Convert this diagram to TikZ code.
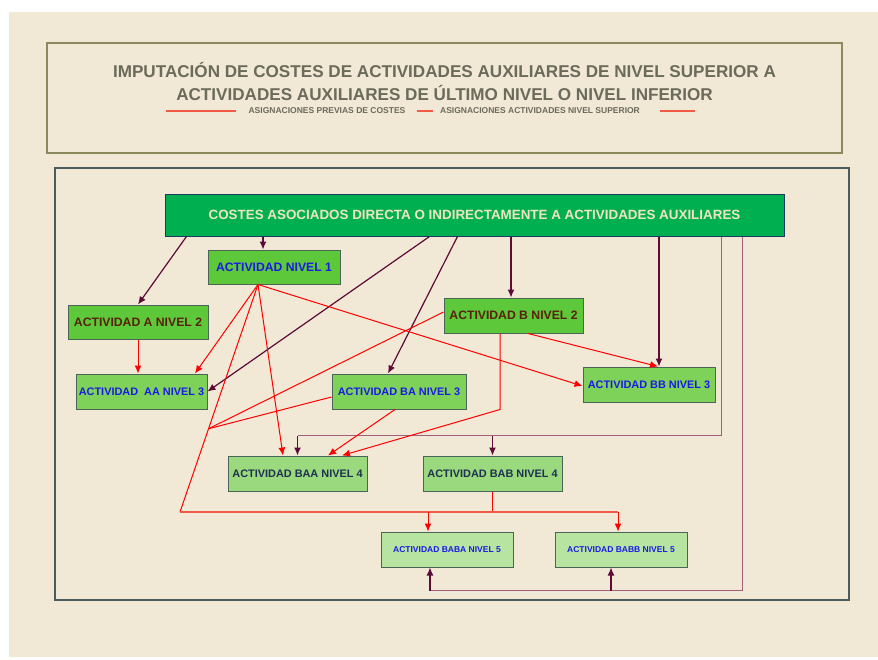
\documentclass[tikz,border=0pt]{standalone}
\usepackage{fontspec}
\setmainfont{Liberation Sans}
\usepackage{tikz}
\usetikzlibrary{arrows.meta,calc}
\definecolor{fondo}{HTML}{F1E8D6}
\definecolor{marcotit}{HTML}{8A8A5E}
\definecolor{marcogen}{HTML}{4B5A5A}
\definecolor{gristit}{HTML}{6B6B5B}
\definecolor{verdecoste}{HTML}{00B050}
\definecolor{bordecoste}{HTML}{1F3A5F}
\definecolor{crema}{HTML}{F1E5C0}
\definecolor{verdeA}{HTML}{5CC83A}
\definecolor{verdeB}{HTML}{7ED25A}
\definecolor{verdeC}{HTML}{9BD97E}
\definecolor{verdeD}{HTML}{B8E4A2}
\definecolor{bordeact}{HTML}{4A6458}
\definecolor{azulact}{HTML}{1A1AE6}
\definecolor{marron}{HTML}{5A200A}
\definecolor{marino}{HTML}{1F3050}
\definecolor{granate}{HTML}{5C0A38}
\definecolor{malva}{HTML}{A0607A}
\definecolor{rojoleg}{HTML}{F05A46}
\newcommand{\tam}[1]{\bfseries\fontsize{#1}{#1}\selectfont}

\begin{document}
\begin{tikzpicture}[x=1pt,y=-1pt,
	caja/.style={draw=bordeact,line width=1pt,inner sep=0pt,minimum height=35pt},
	nivA/.style={caja,fill=verdeA,minimum width=#1,font=\tam{12.2}},
	nivB/.style={caja,fill=verdeB,minimum width=#1,font=\tam{10.9},text=azulact},
	nivC/.style={caja,fill=verdeC,minimum width=139pt,font=\tam{10.9},text=marino},
	nivD/.style={caja,fill=verdeD,minimum width=132pt,font=\tam{8.5},text=azulact},
	imputa/.style={draw=granate,line width=1.2pt,-{Latex[length=8pt,width=7pt]}},
	reparto/.style={draw=red,line width=1pt,-{Latex[length=8pt,width=7pt]}},
	bus/.style={draw=malva,line width=1.8pt},
	busrojo/.style={draw=rojoleg,line width=1.6pt}]
	\useasboundingbox (0,0) rectangle (878,659);
	\fill[white] (0,0) rectangle (878,659);
	\fill[fondo] (9,12) rectangle (878,657);
	
	\draw[marcotit,line width=1.5pt] (47,43) rectangle (842,153);
	\node[text=gristit,font=\tam{17.1}] (tit1) at (444.5,70) {IMPUTACIÓN DE COSTES DE ACTIVIDADES AUXILIARES DE NIVEL SUPERIOR A};
	\node[text=gristit,font=\tam{17.1}] (tit2) at (444.5,93) {ACTIVIDADES AUXILIARES DE ÚLTIMO NIVEL O NIVEL INFERIOR};
	\node[text=gristit,font=\tam{8.5}] (leg1) at (327,111) {ASIGNACIONES PREVIAS DE COSTES};
	\node[text=gristit,font=\tam{8.5}] (leg2) at (540,111) {ASIGNACIONES ACTIVIDADES NIVEL SUPERIOR};
	\draw[rojoleg,line width=1.2pt] ([xshift=-9pt]leg1.west) -- ++(-70,0);
	\draw[rojoleg,line width=1.2pt] ([xshift=8pt]leg1.east) -- ([xshift=-4pt]leg2.west);
	\draw[rojoleg,line width=1.2pt] ([xshift=17pt]leg2.east) -- ++(35,0);
	
	\draw[marcogen,line width=2pt] (55,168) rectangle (849,600);
	
	\node[draw=bordecoste,line width=1pt,fill=verdecoste,minimum width=619pt,minimum height=42pt,
		text=crema,font=\tam{13.4}] (costes) at (474.5,215) {COSTES ASOCIADOS DIRECTA O INDIRECTAMENTE A ACTIVIDADES AUXILIARES};
	\node[nivA=132pt,text=azulact,minimum height=34pt] (n1) at (274,267) {ACTIVIDAD NIVEL 1};
	\node[nivA=140pt,text=marron,minimum height=34pt] (a2) at (138,322) {ACTIVIDAD A NIVEL 2};
	\node[nivA=139pt,text=marron] (b2) at (513.5,315.5) {ACTIVIDAD B NIVEL 2};
	\node[nivB=131pt] (aa3) at (141.5,391.5) {ACTIVIDAD\ \ AA NIVEL 3};
	\node[nivB=134pt] (ba3) at (399,391.5) {ACTIVIDAD BA NIVEL 3};
	\node[nivB=132pt] (bb3) at (649,384.5) {ACTIVIDAD BB NIVEL 3};
	\node[nivC] (baa4) at (297.5,473.5) {ACTIVIDAD BAA NIVEL 4};
	\node[nivC] (bab4) at (492.5,473.5) {ACTIVIDAD BAB NIVEL 4};
	\node[nivD] (baba5) at (447,549.5) {ACTIVIDAD BABA NIVEL 5};
	\node[nivD] (babb5) at (621,549.5) {ACTIVIDAD BABB NIVEL 5};
	
	\coordinate (n1in) at ([xshift=-11pt]n1.north);
	\coordinate (b2in) at ([xshift=-2.5pt]b2.north);
	\coordinate (bb3in) at ([xshift=10pt]bb3.north);
	\coordinate (r1) at ([xshift=557pt]costes.south west);
	\coordinate (r2) at ([xshift=578pt]costes.south west);
	\coordinate (j1) at ([yshift=20pt]baa4.north);
	\coordinate (j2) at ([xshift=-17pt,yshift=-23pt]baba5.south);
	\coordinate (babbin) at ([xshift=-10pt]babb5.south);
	\draw[imputa] ([xshift=22pt]costes.south west) -- (a2.north);
	\draw[imputa] (n1in |- costes.south) -- (n1in);
	\draw[imputa] ([xshift=265pt]costes.south west) -- (aa3.east);
	\draw[imputa] ([xshift=293pt]costes.south west) -- ([xshift=-11pt]ba3.north);
	\draw[imputa] (b2in |- costes.south) -- (b2in);
	\draw[imputa] (bb3in |- costes.south) -- (bb3in);
	\draw[bus] (r1) |- (j1);
	\draw[imputa] (j1) -- (baa4.north);
	\draw[imputa] (j1 -| bab4.north) -- (bab4.north);
	\draw[bus] (r2) |- (j2);
	\draw[imputa] (j2) -- ([xshift=-17pt]baba5.south);
	\draw[imputa] (j2 -| babbin) -- (babbin);
	
	\coordinate (n1out) at ([xshift=-16pt]n1.south);
	\coordinate (c5) at (180,512);
	\coordinate (jn) at ($(n1out)!0.634!(c5)$);
	\coordinate (b2out) at ([xshift=-13.5pt]b2.south);
	\coordinate (babain) at ([xshift=-19pt]baba5.north);
	\coordinate (babbtop) at ([xshift=-3pt]babb5.north);
	\draw[reparto] (n1out) -- ([xshift=53.5pt]aa3.north);
	\draw[reparto] (n1out) -- ([xshift=-14.5pt]baa4.north);
	\draw[reparto] (n1out) -- ([yshift=-1.5pt]bb3.west);
	\draw[red,line width=1pt] (n1out) -- (c5);
	\draw[red,line width=1pt] ([yshift=3.5pt]b2.west) -- (jn);
	\draw[red,line width=1pt] ([yshift=-5.5pt]ba3.west) -- (jn);
	\draw[reparto] ([xshift=-4pt]ba3.south) -- ([xshift=30.5pt]baa4.north);
	\draw[reparto] (b2out) -- (b2out |- ba3.south) -- ([xshift=44.5pt]baa4.north);
	\draw[reparto] ([xshift=14.5pt]b2.south) -- ([xshift=9pt]bb3.north);
	\draw[reparto] (a2.south) -- (a2.south |- aa3.north);
	\draw[red,line width=1pt] (bab4.south) -- (bab4.south |- c5);
	\draw[busrojo] (c5) -- (c5 -| babbtop);
	\draw[reparto] (babain |- c5) -- (babain);
	\draw[reparto] (babbtop |- c5) -- (babbtop);
\end{tikzpicture}
\end{document}
